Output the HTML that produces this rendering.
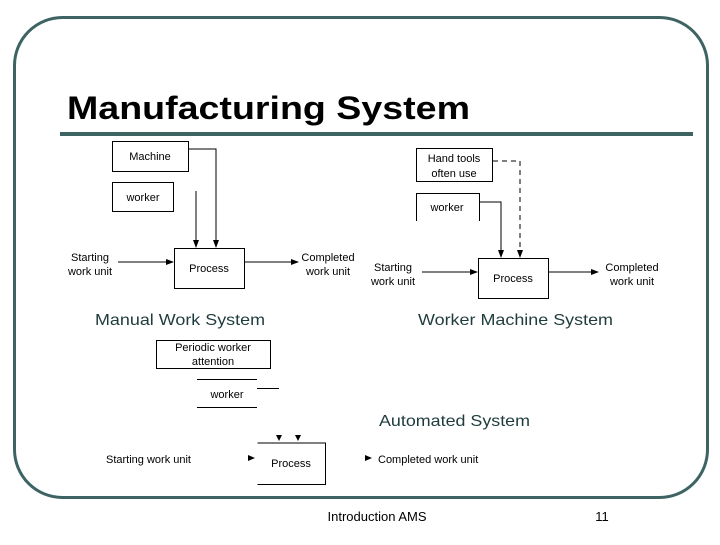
<!DOCTYPE html>
<html><head><meta charset="utf-8"><style>
body{margin:0;width:720px;height:540px;background:#fff;overflow:hidden}
</style></head><body>
<svg width="720" height="540" xmlns="http://www.w3.org/2000/svg" font-family="Liberation Sans, sans-serif">
<defs><marker id="a" markerWidth="8" markerHeight="8" refX="7" refY="4" orient="auto" markerUnits="userSpaceOnUse"><path d="M0,1 L8,4 L0,7z" fill="#000"/></marker></defs>
<rect x="14.5" y="17.5" width="693" height="480" rx="48" fill="none" stroke="#3d6363" stroke-width="3"/>
<text x="67" y="119" font-size="32" font-weight="bold" fill="#000" textLength="403" lengthAdjust="spacingAndGlyphs">Manufacturing System</text>
<rect x="60" y="132" width="633" height="4" fill="#3d6363"/>
<g font-size="11" fill="#000" stroke="none">
<g fill="none" stroke="#000" stroke-width="1">
<rect x="112.5" y="141.5" width="76" height="30"/>
<rect x="112.5" y="182.5" width="61" height="29"/>
<rect x="174.5" y="248.5" width="70" height="40"/>
<path d="M188,149 H216 V247" marker-end="url(#a)"/>
<path d="M196,191 V247" marker-end="url(#a)"/>
<path d="M118,262 H173" marker-end="url(#a)"/>
<path d="M245,262 H298" marker-end="url(#a)"/>
</g>
<text x="150" y="160" text-anchor="middle">Machine</text>
<text x="143" y="201" text-anchor="middle">worker</text>
<text x="209" y="272" text-anchor="middle">Process</text>
<text x="90" y="261" text-anchor="middle">Starting</text>
<text x="90" y="275" text-anchor="middle">work unit</text>
<text x="328" y="261" text-anchor="middle">Completed</text>
<text x="328" y="275" text-anchor="middle">work unit</text>
<g fill="none" stroke="#000" stroke-width="1">
<rect x="416.5" y="148.5" width="76" height="33"/>
<path d="M416.5,221 V193.5 H479.5 V221"/>
<rect x="478.5" y="258.5" width="70" height="40"/>
<path d="M479,202 H501 V257" marker-end="url(#a)"/>
<path d="M493,161 H520 V257" stroke-dasharray="5,4" marker-end="url(#a)"/>
<path d="M422,272 H477" marker-end="url(#a)"/>
<path d="M549,272 H598" marker-end="url(#a)"/>
</g>
<text x="454" y="162" text-anchor="middle">Hand tools</text>
<text x="454" y="177" text-anchor="middle">often use</text>
<text x="447" y="211" text-anchor="middle">worker</text>
<text x="513" y="282" text-anchor="middle">Process</text>
<text x="393" y="271" text-anchor="middle">Starting</text>
<text x="393" y="285" text-anchor="middle">work unit</text>
<text x="632" y="271" text-anchor="middle">Completed</text>
<text x="632" y="285" text-anchor="middle">work unit</text>
</g>
<text x="95" y="325" font-size="16" fill="#1f3b3b" textLength="170" lengthAdjust="spacingAndGlyphs">Manual Work System</text>
<text x="418" y="325" font-size="16" fill="#1f3b3b" textLength="195" lengthAdjust="spacingAndGlyphs">Worker Machine System</text>
<text x="379" y="426" font-size="16" fill="#1f3b3b" textLength="151" lengthAdjust="spacingAndGlyphs">Automated System</text>
<g fill="none" stroke="#000" stroke-width="1">
<rect x="156.5" y="340.5" width="114" height="28"/>
<path d="M197,379.5 H257 M257,388.5 H279 M197,407.5 H257"/>
<path d="M257.5,443 H325.5 V484.5 H257.5"/>
</g>
<g font-size="11" fill="#000">
<text x="213" y="351" text-anchor="middle">Periodic worker</text>
<text x="213" y="365" text-anchor="middle">attention</text>
<text x="227" y="398" text-anchor="middle">worker</text>
<text x="291" y="467" text-anchor="middle">Process</text>
<text x="106" y="463">Starting work unit</text>
<text x="378" y="463">Completed work unit</text>
</g>
<g fill="#000">
<path d="M276,435 h6 l-3,6z M295,435 h6 l-3,6z"/>
<path d="M248,455 v6 l7,-3z M365,455 v6 l7,-3z"/>
</g>
<text x="377" y="521" font-size="13" text-anchor="middle">Introduction AMS</text>
<text x="602" y="521" font-size="13" text-anchor="middle">11</text>
</svg>
</body></html>
